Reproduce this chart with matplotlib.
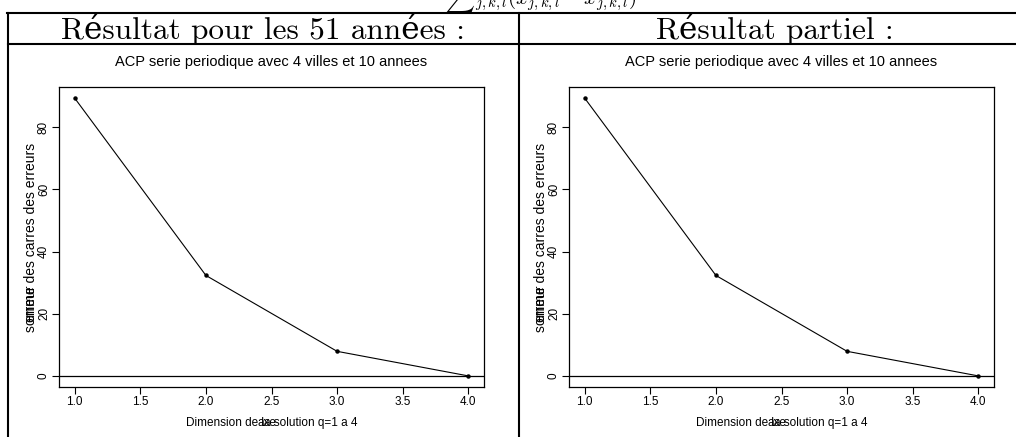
import matplotlib
matplotlib.use("Agg")
import matplotlib.pyplot as plt

plt.rcParams["mathtext.fontset"] = "cm"

# data
dims = [1, 2, 3, 4]
err_all = [89.3, 32.3, 7.9, 0.0]
err_part = [89.3, 32.3, 7.9, 0.0]
headers = ["Résultat pour les 51 années :", "Résultat partiel :"]
plot_title = "ACP serie periodique avec 4 villes et 10 annees"
xticks = [1.0, 1.5, 2.0, 2.5, 3.0, 3.5, 4.0]
yticks = [0, 20, 40, 60, 80]

W, H = 1016, 437
fig = plt.figure(figsize=(W / 100, H / 100), dpi=100)

# overlay in pixel coordinates for the table frame
frame = fig.add_axes([0, 0, 1, 1])
frame.set_xlim(0, W)
frame.set_ylim(H, 0)
frame.axis("off")
lw = 1.5
frame.plot([7, W], [13, 13], color="black", lw=lw)
frame.plot([8, W], [44, 44], color="black", lw=lw)
frame.plot([8, 8], [13, H], color="black", lw=lw)
frame.plot([519, 519], [13, H], color="black", lw=lw)
# formula of the previous line of the page, cut by the top edge
frame.text(545, 4, r"${\sum}_{j,k,l}(x_{j,k,l}-\hat{x}_{j,k,l})^2$", fontsize=15,
           ha="center", va="baseline", clip_on=False)
serif = ["cmr10", "DejaVu Serif"]
frame.text(263, 29, headers[0], fontsize=22.5, family=serif, ha="center", va="center")
frame.text(775, 29, headers[1], fontsize=22.5, family=serif, ha="center", va="center")

sans = ["Liberation Sans", "DejaVu Sans"]
fs = 8.5
fs_y = 10


def panel(left_px, values):
    ax = fig.add_axes([left_px / W, 1 - 387 / H, 425 / W, 300 / H])
    ax.plot(dims, values, color="black", lw=0.8, marker="o", markersize=2.2)
    ax.axhline(0, color="black", lw=0.9)
    ax.set_xlim(0.88, 4.12)
    ax.set_ylim(-3.57, 92.9)
    ax.set_xticks(xticks)
    ax.set_xticklabels([f"{t:.1f}" for t in xticks], family=sans, fontsize=fs)
    ax.set_yticks(yticks)
    ax.set_yticklabels([str(t) for t in yticks], family=sans, fontsize=fs,
                       rotation=90, va="center")
    ax.tick_params(direction="out", length=5, width=0.8, pad=1.5)
    for s in ax.spines.values():
        s.set_linewidth(0.9)
    ax.set_title(plot_title, family=sans, fontsize=10.5, pad=15)
    # overlapped axis labels, as in the original output
    ax.text(0.5, -0.1, "Dimension de la solution q=1 a 4", transform=ax.transAxes,
            family=sans, fontsize=fs, ha="center", va="top")
    ax.text(0.49, -0.1, "axe", transform=ax.transAxes,
            family=sans, fontsize=fs, ha="center", va="top")
    ax.text(-0.05, 0.5, "somme des carres des erreurs", transform=ax.transAxes,
            family=sans, fontsize=fs_y, rotation=90, ha="right", va="center")
    ax.text(-0.05, 0.28, "erreur", transform=ax.transAxes,
            family=sans, fontsize=fs_y, rotation=90, ha="right", va="center")
    return ax


panel(59, err_all)
panel(569, err_part)

fig.savefig("out.png", dpi=100)
